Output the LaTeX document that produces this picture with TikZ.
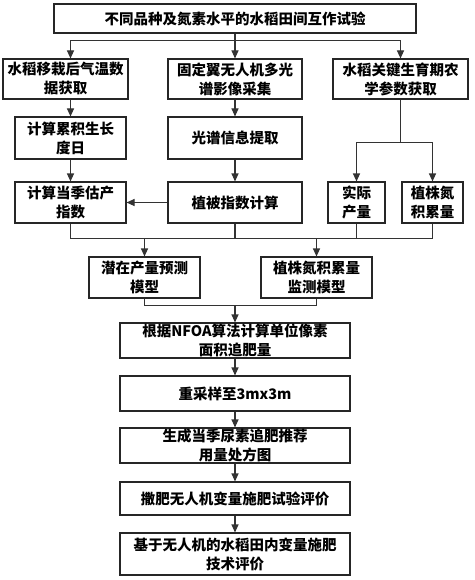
\documentclass[tikz,border=0pt]{standalone}
\usepackage{fontspec}
\setmainfont{Noto Sans CJK SC}
\usetikzlibrary{arrows.meta}

\begin{document}
\begin{tikzpicture}[x=1pt,y=-1pt,line width=1.1pt,draw=black!80,>={Triangle[length=8pt,width=7pt]}]
        \tikzstyle{box}=[draw=black!85,rectangle,inner sep=0pt,align=center,font=\bfseries\fontsize{14.5}{19}\selectfont]
        \tikzstyle{arrow}=[->,draw=black!80]
        \useasboundingbox (0,0) rectangle (474,580);

        % Field trial
        \node[box, minimum width=362pt, minimum height=29pt] (trial) at (235,18.5) {不同品种及氮素水平的水稻田间互作试验};

        % Data acquisition
        \node[box, minimum width=125pt, minimum height=40pt] (temp) at (65.5,79) {水稻移栽后气温数\\据获取};
        \node[box, minimum width=134pt, minimum height=40pt] (uav) at (235,79) {固定翼无人机多光\\谱影像采集};
        \node[box, minimum width=135pt, minimum height=40pt] (agro) at (400.5,79) {水稻关键生育期农\\学参数获取};

        % Processing
        \node[box, minimum width=111pt, minimum height=42pt] (gdd) at (70.5,138) {计算累积生长\\度日};
        \node[box, minimum width=134pt, minimum height=42pt] (spec) at (235,138) {光谱信息提取};

        \node[box, minimum width=111pt, minimum height=41pt] (yidx) at (70.5,202.5) {计算当季估产\\指数};
        \node[box, minimum width=134pt, minimum height=41pt] (vi) at (235,202.5) {植被指数计算};
        \node[box, minimum width=57pt, minimum height=41pt] (yield) at (356.5,202.5) {实际\\产量};
        \node[box, minimum width=61pt, minimum height=41pt] (pna) at (432.5,202.5) {植株氮\\积累量};

        % Models
        \node[box, minimum width=111pt, minimum height=41pt] (ymod) at (144.5,277.5) {潜在产量预测\\模型};
        \node[box, minimum width=111pt, minimum height=41pt] (nmod) at (316.5,277.5) {植株氮积累量\\监测模型};

        % Fertilization chain
        \node[box, minimum width=230pt, minimum height=35pt] (nfoa) at (235,340.5) {根据NFOA算法计算单位像素\\面积追肥量};
        \node[box, minimum width=230pt, minimum height=35pt] (resamp) at (235,393.5) {重采样至3mx3m};
        \node[box, minimum width=230pt, minimum height=35pt] (presc) at (235,445.5) {生成当季尿素追肥推荐\\用量处方图};
        \node[box, minimum width=230pt, minimum height=33pt] (test) at (235,498.5) {撒肥无人机变量施肥试验评价};
        \node[box, minimum width=230pt, minimum height=42pt] (eval) at (235,554) {基于无人机的水稻田内变量施肥\\技术评价};

        % Split after trial
        \coordinate (s1) at (235,40.7);
        \draw (trial.south) -- (s1);
        \draw[arrow] (s1) -| (gdd.north |- temp.north);
        \draw[arrow] (s1) -- (uav.north);
        \draw[arrow] (s1) -| (agro.north);

        % Columns
        \draw[arrow] (temp.south -| gdd.north) -- (gdd.north);
        \draw[arrow] (gdd) -- (yidx);
        \draw[arrow] (uav) -- (spec);
        \draw[arrow] (spec) -- (vi);
        \draw[arrow] (vi) -- (yidx);
        \draw (agro.south) -- ++(0,43) coordinate (s2);
        \draw[arrow] (s2) -| (yield.north);
        \draw[arrow] (s2) -| (pna.north);

        % Merge into models
        \draw (yidx.south) -- ++(0,15) coordinate (m1) -- (m1 -| pna.south) -- (pna.south);
        \draw (vi.south) -- (vi.south |- m1);
        \draw (yield.south) -- (yield.south |- m1);
        \draw[arrow] (ymod.north |- m1) -- (ymod.north);
        \draw[arrow] (nmod.north |- m1) -- (nmod.north);
        \draw (ymod.south) -- ++(0,7) coordinate (m2) -- (m2 -| nmod.south) -- (nmod.south);
        \draw[arrow] (m2 -| nfoa.north) -- (nfoa.north);

        % Main chain
        \foreach \from/\to in {nfoa/resamp, resamp/presc, presc/test, test/eval}
            \draw[arrow] (\from) -- (\to);
    \end{tikzpicture}
\end{document}
